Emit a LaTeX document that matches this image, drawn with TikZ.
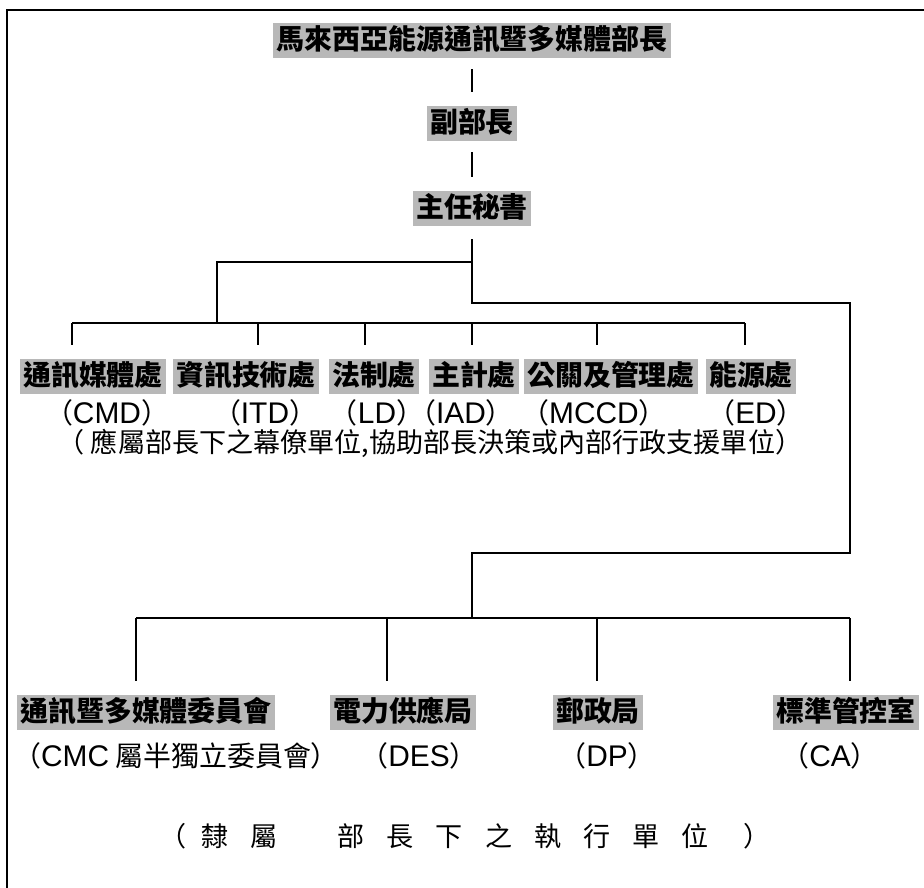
\documentclass[tikz,border=0pt]{standalone}
\usepackage{fontspec}
\setmainfont{Noto Sans CJK TC}
\newfontfamily\latinsans{Liberation Sans}
\usepackage{tikz}
\usetikzlibrary{positioning}
\tikzset{
    frame/.style={draw=black, line width=1.2pt},
    link/.style={draw=black, line width=0.9pt},
    gaplink/.style={link, shorten <=.22cm, shorten >=.26cm},
    unit/.style={fill=black!28, font=\bfseries\fontsize{15.9}{18}\selectfont,
        inner xsep=.06cm, inner ysep=.06cm, text height=.48cm, text depth=.1cm},
    abbr/.style={font=\fontsize{15.9}{18}\selectfont, inner sep=0pt},
    remark/.style={font=\fontsize{15.4}{18}\selectfont, inner sep=0pt},
}
\newcommand{\chargap}{\hspace{.44cm}}
\newcommand{\latinpart}[1]{{\latinsans\fontsize{17}{18}\selectfont #1}}
\newcommand{\abbrtext}[1]{（\latinpart{#1}）}

\begin{document}
\begin{tikzpicture}[line width=0.9pt]
\clip (0,0) rectangle (18.48,-17.74);
\draw[frame] (0.14,-0.2) rectangle (19,-18.5);
	\node[unit] (minister) at (9.44,-0.80) {馬來西亞能源通訊暨多媒體部長};
	\node[unit] (deputy) at (9.44,-2.46) {副部長};
	\node[unit] (secretary) at (9.44,-4.16) {主任秘書};
	\draw[gaplink] (minister) -- (deputy);
	\draw[gaplink] (deputy) -- (secretary);
	\coordinate (fork) at (9.44,-5.24);
	\coordinate (turn) at (9.44,-6.06);
	\coordinate (eastturn) at (17.00,-6.06);
	\coordinate (eastdrop) at (17.00,-11.06);
	\coordinate (drop) at (9.44,-11.06);
	\coordinate (lowhub) at (9.44,-12.36);
	\coordinate (uphub) at (4.34,-6.46);
	\draw[link, shorten <=.26cm] (secretary) -- (turn) -- (eastturn) -- (eastdrop) -- (drop) -- (lowhub);
	\draw[link] (fork) -| (uphub);
\begin{scope}[shift={(0,0)}]
	\node[unit] (cmd) at (1.86,-7.52) {通訊媒體處};
	\node[unit] (itd) at (4.92,-7.52) {資訊技術處};
	\node[unit] (ld) at (7.48,-7.52) {法制處};
	\node[unit] (iad) at (9.48,-7.52) {主計處};
	\node[unit] (mccd) at (12.22,-7.52) {公關及管理處};
	\node[unit] (ed) at (15.02,-7.52) {能源處};
	\node[abbr] (cmdab) at (2.14,-8.26) {\abbrtext{CMD}};
	\node[abbr] (itdab) at (5.30,-8.26) {\abbrtext{ITD}};
	\node[abbr] (ldab) at (7.54,-8.26) {\abbrtext{LD}};
	\node[abbr] (iadab) at (9.22,-8.26) {\abbrtext{IAD}};
	\node[abbr] (mccdab) at (11.88,-8.26) {\abbrtext{MCCD}};
	\node[abbr] (edab) at (15.12,-8.26) {\abbrtext{ED}};
	\node[remark] (staffnote) at (8.60,-8.86) {（ 應屬部長下之幕僚單位,協助部長決策或內部行政支援單位）};
	\foreach \n/\x/\u in {1/1.44/cmd, 2/5.16/itd, 3/7.30/ld, 4/9.44/iad, 5/11.94/mccd, 6/14.90/ed}
	{
		\coordinate (b\n) at (\x,-6.46);
		\draw[link, shorten >=.26cm] (b\n) -- (b\n |- \u.north);
	}
	\draw[link] (b1) -- (b6);
\end{scope}
\begin{scope}[shift={(0,0)}]
	\node[unit] (cmc) at (2.92,-14.24) {通訊暨多媒體委員會};
	\node[unit] (des) at (8.06,-14.24) {電力供應局};
	\node[unit] (dp) at (11.96,-14.24) {郵政局};
	\node[unit] (ca) at (16.92,-14.24) {標準管控室};
	\node[abbr] (cmcab) at (3.52,-15.12) {（\latinpart{CMC} 屬半獨立委員會）};
	\node[abbr] (desab) at (8.38,-15.12) {\abbrtext{DES}};
	\node[abbr] (dpab) at (12.14,-15.12) {\abbrtext{DP}};
	\node[abbr] (caab) at (16.60,-15.12) {\abbrtext{CA}};
	\node[remark] (execnote) at (9.30,-16.72) {（\hspace{.3cm}隸\chargap 屬\hspace{1.2cm}部\chargap 長\chargap 下\chargap 之\chargap 執\chargap 行\chargap 單\chargap 位\hspace{.7cm}）};
	\foreach \n/\x/\u in {1/2.72/cmc, 2/7.74/des, 3/11.94/dp, 4/17.00/ca}
	{
		\coordinate (c\n) at (\x,-12.36);
		\draw[link, shorten >=.26cm] (c\n) -- (c\n |- \u.north);
	}
	\draw[link] (c1) -- (c4);
\end{scope}
\end{tikzpicture}
\end{document}
